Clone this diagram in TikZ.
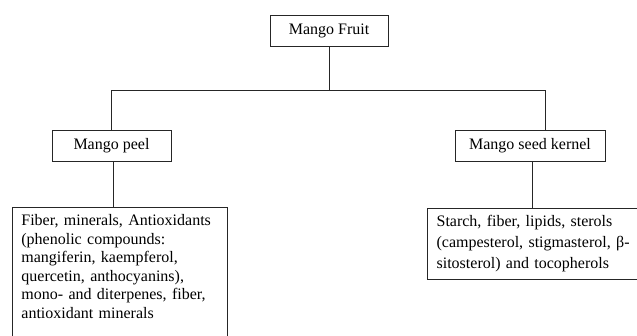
\documentclass[tikz,border=0pt]{standalone}
\usepackage{fontspec}
\setmainfont{Liberation Serif}
\begin{document}
\begin{tikzpicture}[x=1pt,y=-1pt,
  labelbox/.style={draw=black!85, line width=0.8pt, rectangle, minimum height=31pt, inner sep=0pt,
    font=\fontsize{16}{19}\selectfont},
  contentbox/.style={draw=black!85, line width=0.8pt, rectangle, anchor=north west, align=left,
    inner xsep=9.5pt, inner ysep=7.5pt},
  conn/.style={line width=0.8pt, draw=black!85}]
\useasboundingbox (0,0) rectangle (637,335);
\node[labelbox, minimum width=118pt] (fruit) at (329,30.5) {Mango Fruit};
\node[labelbox, minimum width=119pt] (peel) at (111.5,145.5) {Mango peel};
\node[labelbox, minimum width=150pt] (seed) at (530,145.5) {Mango seed kernel};
\node[contentbox, text width=196pt, text depth=120pt, font=\fontsize{16}{18.6}\selectfont] (peelc) at (11.5,206.5)
  {Fiber, minerals, Antioxidants\\(phenolic compounds:\\mangiferin, kaempferol,\\quercetin, anthocyanins),\\mono- and diterpenes, fiber,\\antioxidant minerals};
\node[contentbox, text width=240pt, font=\fontsize{16}{21}\selectfont] (seedc) at (426.7,207.5)
  {Starch, fiber, lipids, sterols\\(campesterol, stigmasterol, β-\\sitosterol) and tocopherols};
\coordinate (j) at (329,90);
\coordinate (hl) at (111.5,90);
\coordinate (hr) at (545,90);
\coordinate (pl) at (113,161);
\coordinate (sl) at (532.7,161);
\draw[conn] (fruit.south) -- (j);
\draw[conn] (peel.north) -- (hl) -- (hr) -- (hr |- seed.north);
\draw[conn] (pl) -- (pl |- peelc.north);
\draw[conn] (sl) -- (sl |- seedc.north);
\end{tikzpicture}
\end{document}
